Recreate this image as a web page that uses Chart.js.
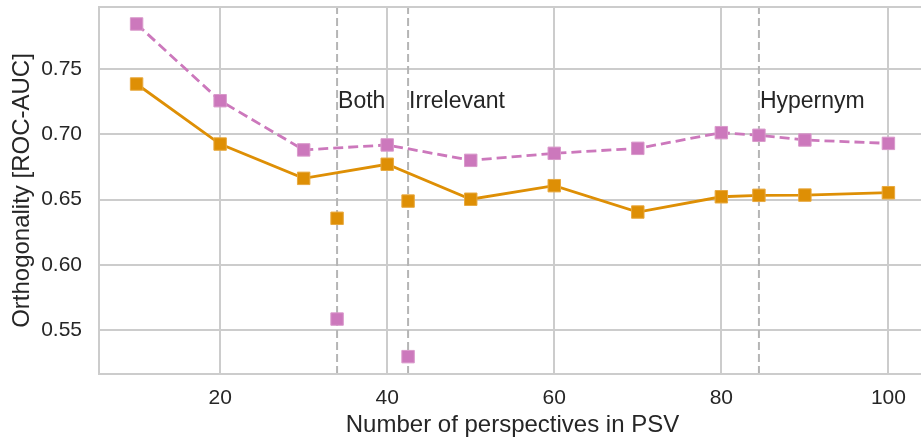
<!DOCTYPE html>
<html>
<head>
<meta charset="utf-8">
<script src="https://cdn.jsdelivr.net/npm/chart.js@4.4.0/dist/chart.umd.min.js"></script>
<style>
  html, body { margin: 0; padding: 0; background: #fff; overflow: hidden; }
  #wrap { width: 930px; height: 443px; position: relative; }
</style>
</head>
<body>
<div id="wrap"><canvas id="grafico" width="930" height="443"></canvas></div>
<script>
// Dados
const perspectives = [10, 20, 30, 40, 50, 60, 70, 80, 84.5, 90, 100];
const orangeAuc = [0.7385, 0.6925, 0.6662, 0.677, 0.6502, 0.6606, 0.6404, 0.6521, 0.6532, 0.6534, 0.6552];
const pinkAuc = [0.7845, 0.7257, 0.688, 0.6918, 0.680, 0.6854, 0.6892, 0.7012, 0.6992, 0.6956, 0.693];

// Pontos isolados (Both, Irrelevant)
const extraX = [34, 42.5];
const extraOrange = [0.6356, 0.6488];
const extraPink = [0.5584, 0.5296];

// Linhas verticais e rotulos
const vLineX = [34, 42.5, 84.5];
const vLineLabels = ["Both", "Irrelevant", "Hypernym"];
const labelY = 0.72;

const xTicks = [20, 40, 60, 80, 100];
const yTicks = [0.55, 0.60, 0.65, 0.70, 0.75];
const xRange = [5.5, 104.5];
const yRange = [0.5163, 0.7975];

const ORANGE = "#de8f05";
const ORANGE_EDGE = "#e8a93f";
const PINK = "#cc78bc";
const PINK_EDGE = "#d999cb";
const TEXT = "#262626";
const GRID = "#cccccc";
const FONT = "'Liberation Sans', Arial, sans-serif";

const toPoints = (xs, ys) => xs.map((x, i) => ({ x: x, y: ys[i] }));

// Linhas verticais tracejadas (ficam por baixo dos marcadores)
const vLineSets = vLineX.map(x => ({
    data: [{ x: x, y: yRange[0] }, { x: x, y: yRange[1] }],
    borderColor: "#b5b5b5",
    borderWidth: 2,
    borderDash: [8, 4],
    pointRadius: 0,
    showLine: true,
    fill: false
}));

// Desenha moldura e rotulos das linhas
const extrasPlugin = {
    id: "extras",
    afterDatasetsDraw(chart) {
        const { ctx, chartArea, scales } = chart;
        ctx.save();
        ctx.strokeStyle = GRID;
        ctx.lineWidth = 2;
        ctx.strokeRect(chartArea.left, chartArea.top, chartArea.right - chartArea.left, chartArea.bottom - chartArea.top);
        ctx.fillStyle = TEXT;
        ctx.font = "23px " + FONT;
        ctx.textBaseline = "alphabetic";
        ctx.textAlign = "left";
        vLineLabels.forEach((txt, i) => {
            ctx.fillText(txt, scales.x.getPixelForValue(vLineX[i]) + 1, scales.y.getPixelForValue(labelY));
        });
        ctx.restore();
    }
};

const markerStyle = {
    pointStyle: "rect",
    pointRadius: 8.8,
    pointBorderWidth: 1
};

const ctx = document.getElementById("grafico").getContext("2d");
new Chart(ctx, {
    type: "scatter",
    data: {
        datasets: [
            {
                data: toPoints(perspectives, orangeAuc),
                borderColor: ORANGE,
                backgroundColor: ORANGE,
                pointBorderColor: ORANGE_EDGE,
                borderWidth: 2.8,
                showLine: true,
                ...markerStyle
            },
            {
                data: toPoints(perspectives, pinkAuc),
                borderColor: PINK,
                backgroundColor: PINK,
                pointBorderColor: PINK_EDGE,
                borderWidth: 2.8,
                borderDash: [10, 5],
                showLine: true,
                ...markerStyle
            },
            {
                data: toPoints(extraX, extraOrange),
                borderColor: ORANGE,
                backgroundColor: ORANGE,
                pointBorderColor: ORANGE_EDGE,
                showLine: false,
                ...markerStyle
            },
            {
                data: toPoints(extraX, extraPink),
                borderColor: PINK,
                backgroundColor: PINK,
                pointBorderColor: PINK_EDGE,
                showLine: false,
                ...markerStyle
            },
            ...vLineSets
        ]
    },
    options: {
        responsive: false,
        animation: false,
        layout: { autoPadding: false, padding: { top: 7, right: 4, left: 0, bottom: 0 } },
        plugins: {
            legend: { display: false },
            tooltip: { enabled: false }
        },
        scales: {
            x: {
                type: "linear",
                min: xRange[0],
                max: xRange[1],
                afterBuildTicks: s => { s.ticks = xTicks.map(v => ({ value: v })); },
                afterFit: s => { s.height = 69; s.paddingLeft = 0; s.paddingRight = 0; },
                grid: { color: GRID, lineWidth: 2, drawTicks: false },
                border: { display: false },
                ticks: {
                    color: TEXT,
                    padding: 12,
                    maxRotation: 0,
                    font: { family: FONT, size: 21 },
                    callback: v => String(v)
                },
                title: {
                    display: true,
                    text: "Number of perspectives in PSV",
                    color: TEXT,
                    padding: { top: 0, bottom: 3 },
                    font: { family: FONT, size: 24 }
                }
            },
            y: {
                type: "linear",
                min: yRange[0],
                max: yRange[1],
                afterBuildTicks: s => { s.ticks = yTicks.map(v => ({ value: v })); },
                afterFit: s => { s.width = 99; s.paddingTop = 0; s.paddingBottom = 0; },
                grid: { color: GRID, lineWidth: 2, drawTicks: false },
                border: { display: false },
                ticks: {
                    color: TEXT,
                    padding: 17,
                    font: { family: FONT, size: 21 },
                    callback: v => v.toFixed(2)
                },
                title: {
                    display: true,
                    text: "Orthogonality [ROC-AUC]",
                    color: TEXT,
                    padding: { top: 8, bottom: 0 },
                    font: { family: FONT, size: 24 }
                }
            }
        }
    },
    plugins: [extrasPlugin]
});
</script>
</body>
</html>
